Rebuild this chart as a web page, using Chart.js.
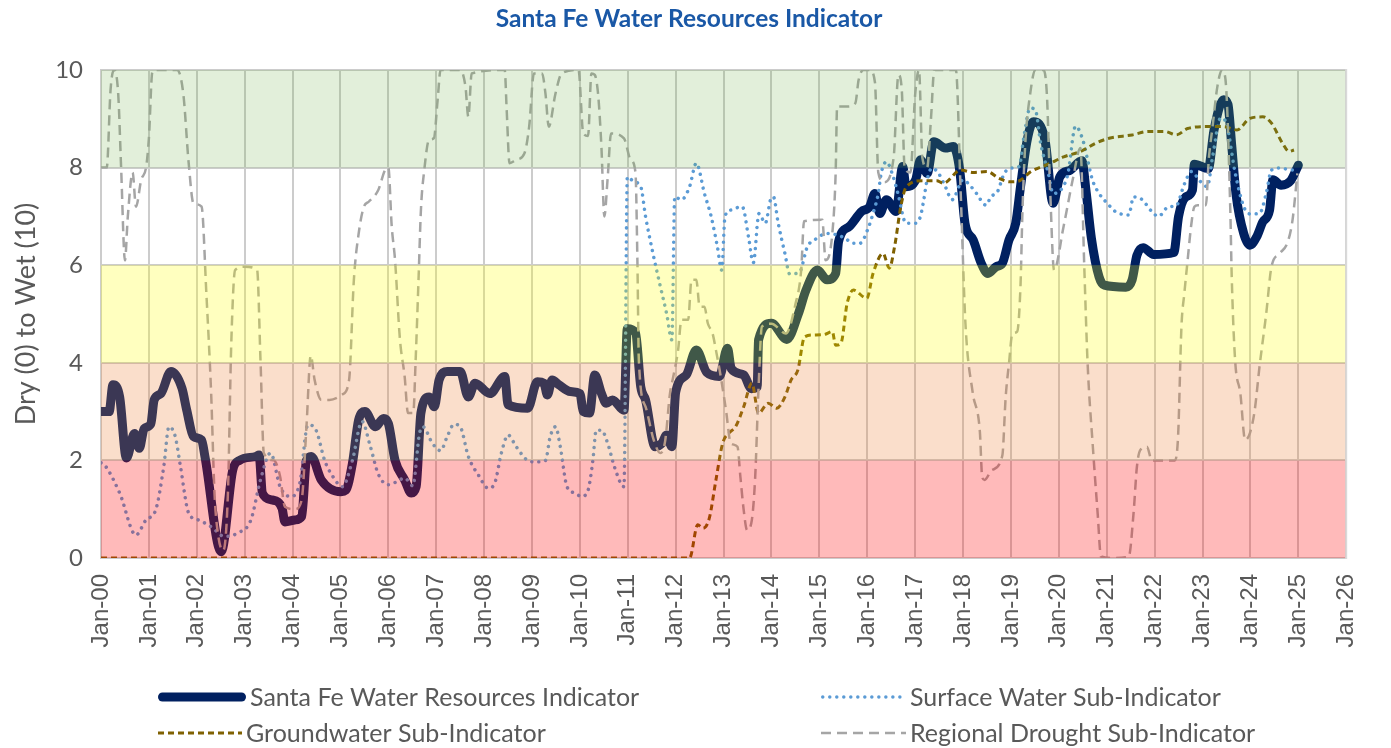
<!DOCTYPE html>
<html>
<head>
<meta charset="utf-8">
<title>Santa Fe Water Resources Indicator</title>
<script src="https://cdn.jsdelivr.net/npm/chart.js@4.4.1/dist/chart.umd.min.js"></script>
<style>
  html, body { margin: 0; padding: 0; background: #ffffff; }
</style>
</head>
<body>
<canvas id="chart" width="1391" height="748"></canvas>
<script>
// [years since Jan 2000, index value]
const sfwri = [
  [0.00,3.00],[0.17,3.00],[0.25,3.55],[0.39,3.30],[0.53,2.05],[0.70,2.55],[0.80,2.25],[0.90,2.65],
  [1.04,2.75],[1.11,3.24],[1.25,3.37],[1.46,3.82],[1.69,3.48],[1.79,3.03],[1.93,2.49],[2.10,2.42],
  [2.17,2.08],[2.51,0.13],[2.75,1.80],[2.89,2.00],[3.23,2.08],[3.30,2.11],[3.37,1.33],[3.57,1.19],
  [3.78,1.02],[3.84,0.74],[4.05,0.78],[4.19,0.85],[4.29,2.00],[4.39,2.08],[4.60,1.60],[5.01,1.36],
  [5.11,1.39],[5.25,1.94],[5.38,2.83],[5.51,3.00],[5.73,2.69],[5.90,2.86],[6.00,2.76],[6.14,2.00],
  [6.34,1.60],[6.48,1.33],[6.58,1.46],[6.68,2.97],[6.85,3.30],[6.96,3.10],[7.06,3.65],[7.23,3.82],
  [7.50,3.82],[7.67,3.30],[7.81,3.58],[8.12,3.37],[8.43,3.72],[8.50,3.14],[8.91,3.07],[9.11,3.61],
  [9.25,3.58],[9.32,3.34],[9.42,3.65],[9.56,3.55],[9.80,3.41],[10.00,3.37],[10.07,3.00],[10.20,2.97],
  [10.31,3.75],[10.45,3.37],[10.55,3.17],[10.68,3.24],[10.92,3.03],[10.99,4.70],[11.16,4.62],[11.27,3.51],
  [11.37,3.24],[11.57,2.28],[11.71,2.35],[11.81,2.52],[11.92,2.28],[12.00,3.40],[12.22,3.75],[12.43,4.26],
  [12.65,3.80],[12.91,3.72],[13.08,4.30],[13.16,3.88],[13.42,3.75],[13.58,3.47],[13.70,3.50],[13.73,4.47],
  [14.00,4.81],[14.32,4.48],[14.56,5.00],[14.72,5.49],[14.96,5.90],[15.16,5.70],[15.34,5.83],[15.40,6.48],
  [15.62,6.79],[15.88,7.10],[16.05,7.20],[16.16,7.47],[16.26,7.06],[16.40,7.34],[16.60,7.10],[16.74,8.02],
  [16.81,7.61],[17.01,7.75],[17.11,8.16],[17.25,7.88],[17.39,8.53],[17.63,8.40],[17.80,8.43],[17.93,7.95],
  [18.04,6.86],[18.21,6.52],[18.38,6.04],[18.52,5.83],[18.69,5.97],[18.82,6.04],[18.96,6.52],[19.10,6.86],
  [19.20,7.61],[19.34,8.57],[19.47,8.94],[19.71,8.57],[19.88,7.27],[20.02,7.81],[20.24,7.95],[20.48,8.14],
  [20.57,7.50],[20.68,6.55],[20.84,5.76],[20.95,5.59],[21.40,5.55],[21.53,5.70],[21.63,6.20],[21.76,6.36],
  [21.98,6.22],[22.40,6.26],[22.50,7.00],[22.65,7.40],[22.79,7.54],[22.83,8.07],[23.12,7.98],[23.24,8.77],
  [23.44,9.39],[23.53,9.30],[23.61,8.45],[23.70,7.45],[23.86,6.65],[23.99,6.41],[24.13,6.58],[24.26,6.89],
  [24.40,7.13],[24.47,7.75],[24.64,7.64],[24.84,7.73],[25.00,8.05]
];

const surfaceWater = [
  [0.00,1.95],[0.08,1.90],[0.39,1.33],[0.73,0.47],[0.94,0.78],[1.14,0.98],[1.31,1.87],[1.42,2.69],
  [1.55,2.49],[1.66,1.87],[1.83,0.92],[2.03,0.78],[2.30,0.64],[2.58,0.44],[2.85,0.51],[3.13,0.78],
  [3.33,1.60],[3.54,2.15],[3.74,1.46],[3.95,1.26],[4.15,1.53],[4.32,2.73],[4.49,2.62],[4.67,2.00],
  [4.84,1.67],[5.04,1.46],[5.25,2.00],[5.45,2.80],[5.62,2.30],[5.79,1.72],[6.00,1.50],[6.17,1.56],
  [6.34,1.64],[6.51,1.48],[6.65,2.55],[6.72,2.69],[6.92,2.35],[7.09,2.20],[7.23,2.49],[7.37,2.74],
  [7.50,2.69],[7.67,2.08],[7.88,1.70],[8.09,1.43],[8.22,1.53],[8.36,2.15],[8.50,2.52],[8.67,2.28],
  [8.91,2.00],[9.08,1.97],[9.28,2.00],[9.38,2.49],[9.49,2.69],[9.59,2.28],[9.73,1.46],[9.90,1.33],
  [10.03,1.26],[10.17,1.39],[10.27,2.00],[10.34,2.62],[10.45,2.62],[10.58,2.35],[10.72,1.87],[10.92,1.46],
  [10.99,7.81],[11.13,7.71],[11.27,7.61],[11.37,7.00],[11.51,6.31],[11.68,5.56],[11.81,5.01],[11.92,4.47],
  [11.98,7.40],[12.12,7.34],[12.29,7.61],[12.43,8.09],[12.60,7.47],[12.74,7.00],[12.87,6.38],[12.96,5.90],
  [13.03,7.00],[13.15,7.13],[13.39,7.20],[13.52,6.58],[13.62,6.05],[13.74,7.06],[13.87,6.86],[13.99,7.37],
  [14.04,7.40],[14.14,6.86],[14.28,6.24],[14.38,5.82],[14.58,5.85],[14.75,6.38],[14.90,6.52],[15.16,6.65],
  [15.37,6.62],[15.54,6.55],[15.70,6.45],[15.85,6.45],[16.02,6.76],[16.12,7.06],[16.23,7.47],[16.29,7.88],
  [16.40,8.12],[16.53,7.85],[16.64,7.47],[16.81,6.86],[17.01,6.86],[17.11,7.00],[17.18,7.34],[17.25,7.75],
  [17.35,7.99],[17.49,7.88],[17.63,7.61],[17.77,7.34],[18.00,7.75],[18.14,7.64],[18.28,7.47],[18.48,7.23],
  [18.58,7.40],[18.72,7.51],[18.86,7.88],[19.00,7.99],[19.17,8.02],[19.27,8.63],[19.40,9.22],[19.51,9.18],
  [19.62,8.50],[19.78,7.88],[19.88,7.47],[20.09,7.61],[20.19,7.88],[20.35,8.85],[20.50,8.57],[20.60,8.16],
  [20.70,7.75],[20.84,7.47],[21.01,7.27],[21.18,7.10],[21.46,7.03],[21.56,7.40],[21.73,7.35],[21.94,7.10],
  [22.08,7.00],[22.29,7.20],[22.45,7.22],[22.62,7.66],[22.77,7.92],[22.95,7.72],[23.10,7.61],[23.21,8.22],
  [23.38,9.02],[23.50,8.90],[23.68,7.90],[23.86,7.20],[23.99,7.05],[24.19,7.06],[24.33,7.47],[24.44,7.95],
  [24.61,7.99],[24.88,7.95],[24.98,8.02]
];

const groundwater = [
  [0.00,0.00],[12.29,0.00],[12.46,0.68],[12.57,0.61],[12.70,0.81],[12.84,1.60],[12.98,2.35],[13.11,2.56],
  [13.25,2.69],[13.42,3.10],[13.59,3.58],[13.73,2.97],[13.93,3.17],[14.11,3.07],[14.28,3.30],[14.41,3.65],
  [14.55,3.85],[14.69,4.53],[14.89,4.57],[15.10,4.58],[15.27,4.64],[15.34,4.36],[15.45,4.40],[15.58,5.22],
  [15.71,5.49],[15.99,5.32],[16.12,5.83],[16.33,6.24],[16.46,5.94],[16.57,6.38],[16.70,7.20],[16.81,7.60],
  [17.15,7.73],[17.45,7.73],[17.59,7.68],[17.95,7.95],[18.21,7.90],[18.50,7.92],[18.75,7.78],[18.97,7.71],
  [19.15,7.72],[19.42,7.92],[19.78,8.07],[20.10,8.22],[20.45,8.33],[20.77,8.50],[21.05,8.60],[21.53,8.67],
  [21.87,8.74],[22.21,8.74],[22.45,8.67],[22.69,8.80],[23.10,8.84],[23.45,8.84],[23.72,8.77],[23.99,9.01],
  [24.26,9.04],[24.44,8.91],[24.67,8.50],[24.81,8.33],[24.91,8.36]
];

const regionalDrought = [
  [0.00,8.00],[0.12,8.00],[0.20,9.60],[0.27,10.00],[0.36,9.50],[0.42,8.00],[0.50,6.10],[0.56,7.00],
  [0.66,7.90],[0.73,7.20],[0.84,7.75],[0.94,8.00],[1.00,8.60],[1.07,9.95],[1.12,10.00],[1.59,10.00],
  [1.72,9.50],[1.83,8.10],[1.93,7.27],[2.10,7.20],[2.20,5.42],[2.30,3.37],[2.37,1.33],[2.44,0.51],
  [2.55,0.15],[2.65,1.33],[2.72,4.40],[2.80,5.90],[3.00,5.97],[3.26,5.90],[3.33,4.06],[3.40,2.15],
  [3.61,2.00],[3.74,1.67],[3.84,1.05],[4.05,1.00],[4.19,1.19],[4.29,2.69],[4.38,4.15],[4.46,3.65],
  [4.60,3.24],[4.77,3.24],[5.04,3.35],[5.18,3.65],[5.28,5.70],[5.38,6.65],[5.49,7.20],[5.59,7.30],
  [5.79,7.54],[5.93,7.95],[6.00,8.00],[6.07,6.80],[6.14,6.10],[6.24,4.50],[6.34,3.72],[6.41,2.97],
  [6.52,2.97],[6.57,4.06],[6.63,5.70],[6.68,7.13],[6.75,7.95],[6.85,8.57],[6.95,8.60],[7.03,9.40],
  [7.09,10.00],[7.50,10.00],[7.61,9.66],[7.67,9.04],[7.74,9.93],[8.43,10.00],[8.47,9.20],[8.53,8.09],
  [8.67,8.16],[8.84,8.29],[8.94,8.84],[9.04,9.93],[9.21,9.93],[9.28,9.52],[9.35,8.84],[9.49,9.52],
  [9.62,9.93],[9.97,10.00],[10.07,8.70],[10.17,8.65],[10.24,9.93],[10.31,9.90],[10.38,9.50],[10.45,8.40],
  [10.51,7.00],[10.58,7.80],[10.65,8.70],[10.92,8.60],[11.06,8.16],[11.16,7.90],[11.20,6.10],[11.23,4.06],
  [11.37,3.10],[11.54,2.42],[11.68,2.15],[11.78,2.40],[11.88,3.37],[11.95,3.72],[12.05,4.26],[12.12,4.88],
  [12.26,4.88],[12.33,5.70],[12.43,5.70],[12.50,5.15],[12.60,5.15],[12.67,4.81],[12.77,4.60],[12.84,4.26],
  [12.94,3.72],[13.05,3.03],[13.15,2.35],[13.29,2.28],[13.35,1.67],[13.42,0.98],[13.49,0.57],[13.59,0.78],
  [13.66,1.67],[13.73,3.50],[13.80,4.74],[14.00,4.80],[14.30,4.60],[14.50,5.20],[14.62,5.90],[14.68,6.90],
  [15.06,6.93],[15.13,6.10],[15.27,6.65],[15.34,7.90],[15.37,9.25],[15.58,9.25],[15.75,9.32],[15.82,9.80],
  [15.92,10.00],[16.05,10.00],[16.16,9.75],[16.23,7.90],[16.35,7.70],[16.55,8.20],[16.65,9.90],[16.72,9.60],
  [16.78,8.00],[16.90,7.90],[17.00,9.50],[17.08,10.00],[17.15,8.20],[17.25,8.00],[17.33,9.00],[17.40,10.00],
  [17.85,10.00],[17.95,7.50],[18.05,4.80],[18.20,3.40],[18.35,2.60],[18.40,1.65],[18.45,1.60],[18.60,1.80],
  [18.82,2.10],[18.89,3.30],[18.96,4.00],[19.03,4.60],[19.13,4.64],[19.20,5.60],[19.24,7.10],[19.30,8.50],
  [19.40,9.50],[19.51,10.00],[19.68,10.00],[19.75,9.50],[19.82,7.50],[19.90,5.90],[20.10,6.80],[20.30,7.80],
  [20.45,8.40],[20.53,6.00],[20.60,4.00],[20.71,2.28],[20.81,0.92],[20.88,0.03],[21.18,0.00],[21.46,0.03],
  [21.56,0.92],[21.63,1.87],[21.70,2.21],[21.84,2.28],[21.94,2.00],[22.42,2.00],[22.49,2.50],[22.56,4.74],
  [22.62,5.42],[22.69,6.11],[22.76,6.79],[22.83,7.20],[22.90,7.23],[23.07,7.23],[23.13,8.16],[23.21,8.84],
  [23.31,9.66],[23.41,10.00],[23.48,9.80],[23.58,7.13],[23.61,5.76],[23.68,4.06],[23.79,3.37],[23.89,2.42],
  [23.99,2.56],[24.09,3.03],[24.19,3.92],[24.33,5.01],[24.44,5.97],[24.61,6.24],[24.78,6.48],[24.88,6.93],
  [24.98,7.88]
];

const xTickLabels = [
  'Jan-00','Jan-01','Jan-02','Jan-03','Jan-04','Jan-05','Jan-06','Jan-07','Jan-08',
  'Jan-09','Jan-10','Jan-11','Jan-12','Jan-13','Jan-14','Jan-15','Jan-16','Jan-17',
  'Jan-18','Jan-19','Jan-20','Jan-21','Jan-22','Jan-23','Jan-24','Jan-25','Jan-26'
];

const seriesNames = [
  'Santa Fe Water Resources Indicator',
  'Surface Water Sub-Indicator',
  'Groundwater Sub-Indicator',
  'Regional Drought Sub-Indicator'
];

// condition bands (dry -> wet), laid over the lines as a translucent wash
const bandLimits = [0, 2, 4, 6, 8, 10];
const bandColors = [
  'rgba(255, 0, 0, 0.27)',
  'rgba(237, 125, 49, 0.25)',
  'rgba(255, 255, 0, 0.25)',
  null,
  'rgba(112, 173, 71, 0.2)'
];

const toPoints = (pairs) => pairs.map(([x, y]) => ({ x, y }));

const bandPlugin = {
  id: 'bands',
  afterDatasetsDraw(chart) {
    const { ctx, chartArea, scales: { y } } = chart;
    ctx.save();
    for (let i = 0; i < bandColors.length; i++) {
      if (!bandColors[i]) continue;
      const top = y.getPixelForValue(bandLimits[i + 1]);
      const bottom = y.getPixelForValue(bandLimits[i]);
      ctx.fillStyle = bandColors[i];
      ctx.fillRect(chartArea.left, top, chartArea.right - chartArea.left, bottom - top);
    }
    // right edge of the plot frame
    ctx.strokeStyle = '#d9d9d9';
    ctx.lineWidth = 2;
    ctx.beginPath();
    ctx.moveTo(chartArea.right, chartArea.top - 1);
    ctx.lineTo(chartArea.right, chartArea.bottom + 1);
    ctx.stroke();
    ctx.restore();
  }
};

// two-column legend under the axis labels
const legendSlots = [
  { x: 158, y: 697, w: 88 },
  { x: 821, y: 697, w: 85 },
  { x: 158, y: 733, w: 84 },
  { x: 821, y: 733, w: 85 }
];

const legendPlugin = {
  id: 'bottomLegend',
  afterDraw(chart) {
    const { ctx } = chart;
    chart.data.datasets.forEach((ds, i) => {
      const s = legendSlots[i];
      ctx.save();
      ctx.strokeStyle = ds.borderColor;
      ctx.lineWidth = ds.borderWidth;
      ctx.lineCap = ds.borderCapStyle || 'butt';
      ctx.setLineDash(ds.borderDash || []);
      const inset = ctx.lineCap === 'round' ? ds.borderWidth / 2 : 0;
      ctx.beginPath();
      ctx.moveTo(s.x + inset, s.y);
      ctx.lineTo(s.x + s.w - inset, s.y);
      ctx.stroke();
      ctx.setLineDash([]);
      ctx.fillStyle = '#595959';
      ctx.font = '25px Lato';
      ctx.textBaseline = 'middle';
      ctx.fillText(ds.label, s.x + s.w + 4, s.y + 1);
      ctx.restore();
    });
  }
};

new Chart(document.getElementById('chart'), {
  type: 'line',
  data: {
    datasets: [
      {
        label: seriesNames[0],
        data: toPoints(sfwri),
        borderColor: '#002060',
        borderWidth: 9,
        borderCapStyle: 'round',
        borderJoinStyle: 'round',
        order: 4
      },
      {
        label: seriesNames[1],
        data: toPoints(surfaceWater),
        borderColor: '#5b9bd5',
        borderWidth: 3.5,
        borderDash: [0.01, 7],
        borderCapStyle: 'round',
        order: 3
      },
      {
        label: seriesNames[2],
        data: toPoints(groundwater),
        borderColor: '#7f6000',
        borderWidth: 3,
        borderDash: [6, 4],
        order: 2
      },
      {
        label: seriesNames[3],
        data: toPoints(regionalDrought),
        borderColor: '#a5a5a5',
        borderWidth: 2.5,
        borderDash: [10, 6],
        order: 1
      }
    ]
  },
  options: {
    responsive: false,
    animation: false,
    events: [],
    elements: {
      point: { radius: 0 },
      line: { cubicInterpolationMode: 'monotone', fill: false }
    },
    layout: { padding: { left: 10, right: 23, top: 0, bottom: 90 } },
    plugins: {
      legend: { display: false },
      tooltip: { enabled: false },
      title: {
        display: true,
        text: 'Santa Fe Water Resources Indicator',
        color: '#1a58a6',
        font: { family: 'Lato', size: 24.5, weight: 'bold' },
        padding: { top: 4.5, bottom: 36.1 }
      }
    },
    scales: {
      x: {
        type: 'linear',
        min: 0,
        max: 26,
        afterFit: (scale) => { scale.height = 100; },
        grid: { color: '#cccccc', lineWidth: 2, drawTicks: false },
        border: { display: false },
        ticks: {
          stepSize: 1,
          autoSkip: false,
          minRotation: 90,
          maxRotation: 90,
          padding: 16,
          color: '#595959',
          font: { family: 'Liberation Sans', size: 24 },
          callback: (value) => xTickLabels[value]
        }
      },
      y: {
        min: 0,
        max: 10,
        afterFit: (scale) => { scale.width = 91; },
        grid: { color: '#cccccc', lineWidth: 2, drawTicks: false },
        border: { color: '#cccccc', width: 2 },
        ticks: {
          stepSize: 2,
          padding: 18,
          color: '#595959',
          font: { family: 'Lato', size: 24 }
        },
        title: {
          display: true,
          text: 'Dry (0) to Wet (10)',
          color: '#595959',
          font: { family: 'Lato', size: 27 },
          padding: { top: 0, bottom: 0 }
        }
      }
    }
  },
  plugins: [bandPlugin, legendPlugin]
});
</script>
</body>
</html>
